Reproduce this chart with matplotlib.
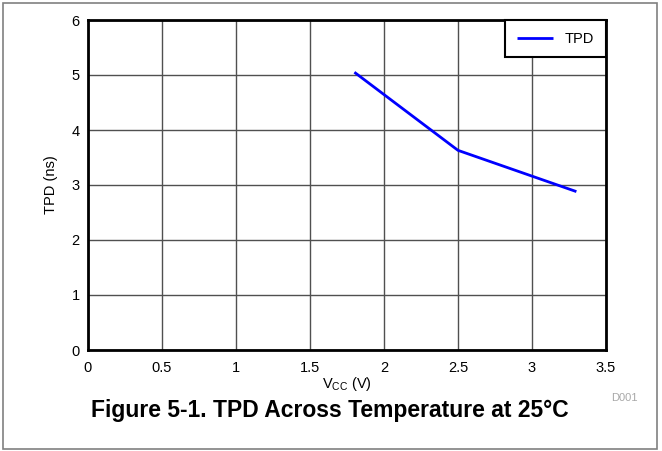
import matplotlib
matplotlib.use("Agg")
import matplotlib.pyplot as plt
from matplotlib.patches import Rectangle

vcc = [1.8, 2.5, 3.3]
tpd = [5.05, 3.63, 2.88]
xticks = [0, 0.5, 1, 1.5, 2, 2.5, 3, 3.5]
xticklabels = ["0", "0.5", "1", "1.5", "2", "2.5", "3", "3.5"]
yticks = [0, 1, 2, 3, 4, 5, 6]
yticklabels = ["0", "1", "2", "3", "4", "5", "6"]

plt.rcParams['font.family'] = ['Liberation Sans', 'DejaVu Sans']

fig = plt.figure(figsize=(6.62, 4.51), dpi=100)
ax = fig.add_axes([88/662, 1-350/451, (606-88)/662, (350-20)/451])

ax.plot(vcc, tpd, color='#0000ff', lw=2, label='TPD', solid_capstyle='butt')
ax.set_xlim(0, 3.5)
ax.set_ylim(0, 6)
ax.set_xticks(xticks)
ax.set_xticklabels(xticklabels)
ax.set_yticks(yticks)
ax.set_yticklabels(yticklabels)
ax.tick_params(length=0, labelsize=10.5, colors='black')
ax.tick_params(axis='x', pad=8)
ax.tick_params(axis='y', pad=6)
ax.grid(True, color='#505050', lw=1)
ax.set_axisbelow(True)
for s in ax.spines.values():
    s.set_linewidth(2)
    s.set_color('black')

ax.set_ylabel('TPD (ns)', fontsize=10.5, labelpad=10)
ax.set_xlabel(r'V$_{\mathregular{CC}}$ (V)', fontsize=10.5, labelpad=0)

leg = ax.legend(loc='upper right', borderaxespad=0, fancybox=False,
                framealpha=1, edgecolor='black', fontsize=10.5,
                handlelength=2.5, borderpad=0.8)
leg.get_frame().set_linewidth(1.5)

fig.text(624/662, 1-398/451, 'D001', fontsize=8, color='#a8a8a8', ha='center', va='center')
fig.text(330/662, 1-411/451, 'Figure 5-1. TPD Across Temperature at 25°C',
         fontsize=16.5, fontweight='bold', ha='center', va='center')

fig.add_artist(Rectangle((3/662, 1-449/451), (657-3)/662, (449-3)/451,
                         transform=fig.transFigure, fill=False,
                         edgecolor='#808080', lw=1.2))

fig.savefig('out.png', dpi=100)
